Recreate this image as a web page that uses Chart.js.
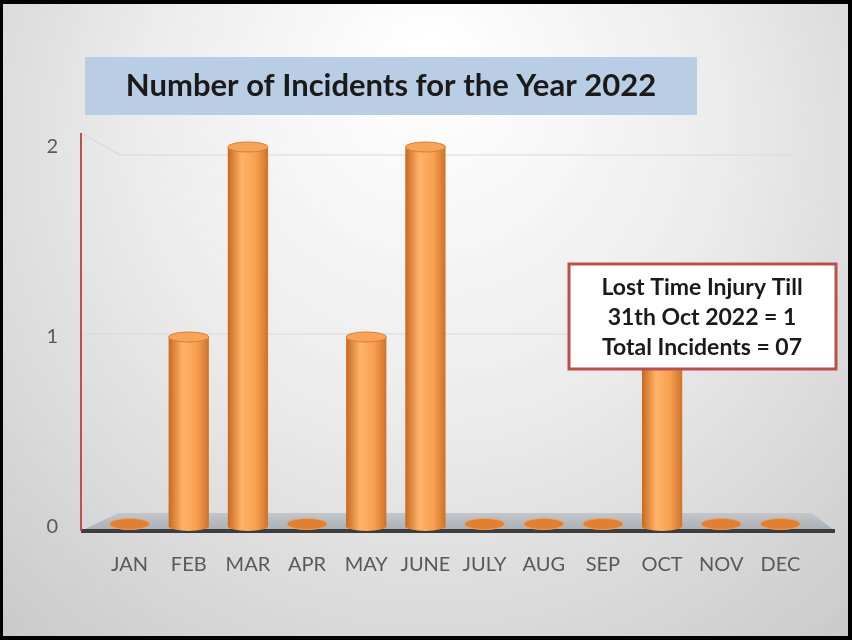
<!DOCTYPE html>
<html>
<head>
<meta charset="utf-8">
<script src="https://cdn.jsdelivr.net/npm/chart.js@4.4.0/dist/chart.umd.min.js"></script>
<style>
  html, body { margin: 0; padding: 0; background: #000; }
  #wrap { width: 852px; height: 640px; position: relative; }
</style>
</head>
<body>
<div id="wrap"><canvas id="myChart"></canvas></div>
<script>
const months = ['JAN', 'FEB', 'MAR', 'APR', 'MAY', 'JUNE', 'JULY', 'AUG', 'SEP', 'OCT', 'NOV', 'DEC'];
const incidents = [0, 1, 2, 0, 1, 2, 0, 0, 0, 1, 0, 0];
const yTicks = [0, 1, 2];
const chartTitle = 'Number of Incidents for the Year 2022';
const noteLines = ['Lost Time Injury Till', '31th Oct 2022 = 1', 'Total Incidents = 07'];

const BAR_FRACTION = 0.68;

// background, title box, floor and 3d grid
const backdrop = {
  id: 'backdrop',
  beforeDraw(chart) {
    const ctx = chart.ctx;
    const w = chart.width, h = chart.height;
    ctx.save();
    ctx.fillStyle = '#000';
    ctx.fillRect(0, 0, w, h);
    const g = ctx.createRadialGradient(430, 60, 20, 430, 200, 620);
    g.addColorStop(0, '#ffffff');
    g.addColorStop(0.45, '#ececec');
    g.addColorStop(1, '#c9c9c9');
    ctx.fillStyle = g;
    ctx.fillRect(3, 4, w - 7, h - 8);

    // title
    ctx.fillStyle = '#b9cde5';
    ctx.fillRect(85, 57, 612, 58);
    ctx.fillStyle = '#1a1a1a';
    ctx.font = 'bold 31px Lato, "Open Sans", sans-serif';
    ctx.textAlign = 'center';
    ctx.textBaseline = 'middle';
    ctx.fillText(chartTitle, 391, 86);
    ctx.restore();
  },
  beforeDatasetsDraw(chart) {
    const ctx = chart.ctx;
    const y = chart.scales.y;
    const axisX = 81;
    const y0 = y.getPixelForValue(0);
    const y1 = y.getPixelForValue(1);
    const y2 = y.getPixelForValue(2);
    ctx.save();
    // grid lines
    ctx.strokeStyle = '#d9d9d9';
    ctx.lineWidth = 1.2;
    ctx.beginPath();
    ctx.moveTo(axisX, y2 - 14);
    ctx.lineTo(120, y2 + 8);
    ctx.lineTo(792, y2 + 8);
    ctx.stroke();
    ctx.beginPath();
    ctx.moveTo(axisX, y1 - 3);
    ctx.lineTo(792, y1 - 3);
    ctx.stroke();

    // floor
    const fg = ctx.createLinearGradient(0, y0 - 14, 0, y0 + 4);
    fg.addColorStop(0, '#c3c7cc');
    fg.addColorStop(1, '#a9aeb4');
    ctx.fillStyle = fg;
    ctx.beginPath();
    ctx.moveTo(axisX, y0 + 4);
    ctx.lineTo(835, y0 + 4);
    ctx.lineTo(812, y0 - 14);
    ctx.lineTo(118, y0 - 14);
    ctx.closePath();
    ctx.fill();
    ctx.fillStyle = '#3d3d3d';
    ctx.fillRect(axisX, y0 + 2, 835 - axisX, 4);

    // y axis line
    ctx.strokeStyle = '#c0504d';
    ctx.lineWidth = 2;
    ctx.beginPath();
    ctx.moveTo(axisX, y2 - 14);
    ctx.lineTo(axisX, y0 + 4);
    ctx.stroke();
    ctx.restore();
  }
};

function cylGradient(ctx, x0, x1) {
  const g = ctx.createLinearGradient(x0, 0, x1, 0);
  g.addColorStop(0, '#c8691f');
  g.addColorStop(0.35, '#ffb36a');
  g.addColorStop(0.7, '#f7a050');
  g.addColorStop(1, '#cf7228');
  return g;
}

// cylinder caps and flat discs for zero months
const cylinders = {
  id: 'cylinders',
  afterDatasetsDraw(chart) {
    const ctx = chart.ctx;
    const meta = chart.getDatasetMeta(0);
    ctx.save();
    meta.data.forEach((bar, i) => {
      const rx = bar.width / 2;
      const ry = 5;
      if (incidents[i] === 0) {
        ctx.fillStyle = '#e08033';
        ctx.beginPath();
        ctx.ellipse(bar.x, bar.base - 3, rx, ry + 0.5, 0, 0, Math.PI * 2);
        ctx.fill();
        ctx.strokeStyle = '#f0a060';
        ctx.lineWidth = 1;
        ctx.stroke();
        return;
      }
      // rounded bottom
      ctx.fillStyle = cylGradient(ctx, bar.x - rx, bar.x + rx);
      ctx.beginPath();
      ctx.ellipse(bar.x, bar.base - 1, rx, ry, 0, 0, Math.PI);
      ctx.fill();
      // top cap
      ctx.fillStyle = '#f8a458';
      ctx.beginPath();
      ctx.ellipse(bar.x, bar.y, rx, ry, 0, 0, Math.PI * 2);
      ctx.fill();
      ctx.strokeStyle = '#d9802f';
      ctx.lineWidth = 1;
      ctx.stroke();
    });
    ctx.restore();
  }
};

// text box on the right
const noteBox = {
  id: 'noteBox',
  afterDraw(chart) {
    const ctx = chart.ctx;
    ctx.save();
    ctx.fillStyle = '#ffffff';
    ctx.fillRect(569, 264, 267, 105);
    ctx.strokeStyle = '#b9504f';
    ctx.lineWidth = 3;
    ctx.strokeRect(569, 264, 267, 105);
    ctx.fillStyle = '#1a1a1a';
    ctx.font = 'bold 23px Lato, "Open Sans", sans-serif';
    ctx.textAlign = 'center';
    ctx.textBaseline = 'middle';
    noteLines.forEach((t, k) => ctx.fillText(t, 702, 288 + k * 30));
    ctx.restore();
  }
};

function cylinderFill(c) {
  const chart = c.chart;
  const xs = chart.scales.x;
  if (!xs || c.dataIndex === undefined) return '#f79646';
  const cx = xs.getPixelForValue(c.dataIndex);
  const half = (xs.width / months.length) * BAR_FRACTION / 2;
  if (!isFinite(cx) || !isFinite(half) || half <= 0) return '#f79646';
  return cylGradient(chart.ctx, cx - half, cx + half);
}

const tickFont = { size: 20, family: 'Lato, "Open Sans", sans-serif' };

const ctx = document.getElementById('myChart').getContext('2d');
new Chart(ctx, {
  type: 'bar',
  data: {
    labels: months,
    datasets: [{
      label: 'Incidents',
      data: incidents,
      backgroundColor: cylinderFill,
      borderWidth: 0,
      barPercentage: BAR_FRACTION,
      categoryPercentage: 1
    }]
  },
  options: {
    responsive: true,
    maintainAspectRatio: false,
    animation: false,
    layout: { padding: { top: 147, right: 42, bottom: 60, left: 40 } },
    plugins: {
      legend: { display: false },
      tooltip: { enabled: false }
    },
    scales: {
      x: {
        afterFit(scale) { scale.height = 53; },
        grid: { display: false, drawTicks: false },
        border: { display: false },
        ticks: {
          color: '#595959',
          padding: 26,
          maxRotation: 0,
          minRotation: 0,
          autoSkip: false,
          font: tickFont
        }
      },
      y: {
        min: 0,
        max: 2,
        afterFit(scale) { scale.width = 60; },
        afterBuildTicks(scale) { scale.ticks = yTicks.map(v => ({ value: v })); },
        grid: { display: false, drawTicks: false },
        border: { display: false },
        ticks: {
          color: '#595959',
          padding: 42,
          font: tickFont
        }
      }
    }
  },
  plugins: [backdrop, cylinders, noteBox]
});
</script>
</body>
</html>
